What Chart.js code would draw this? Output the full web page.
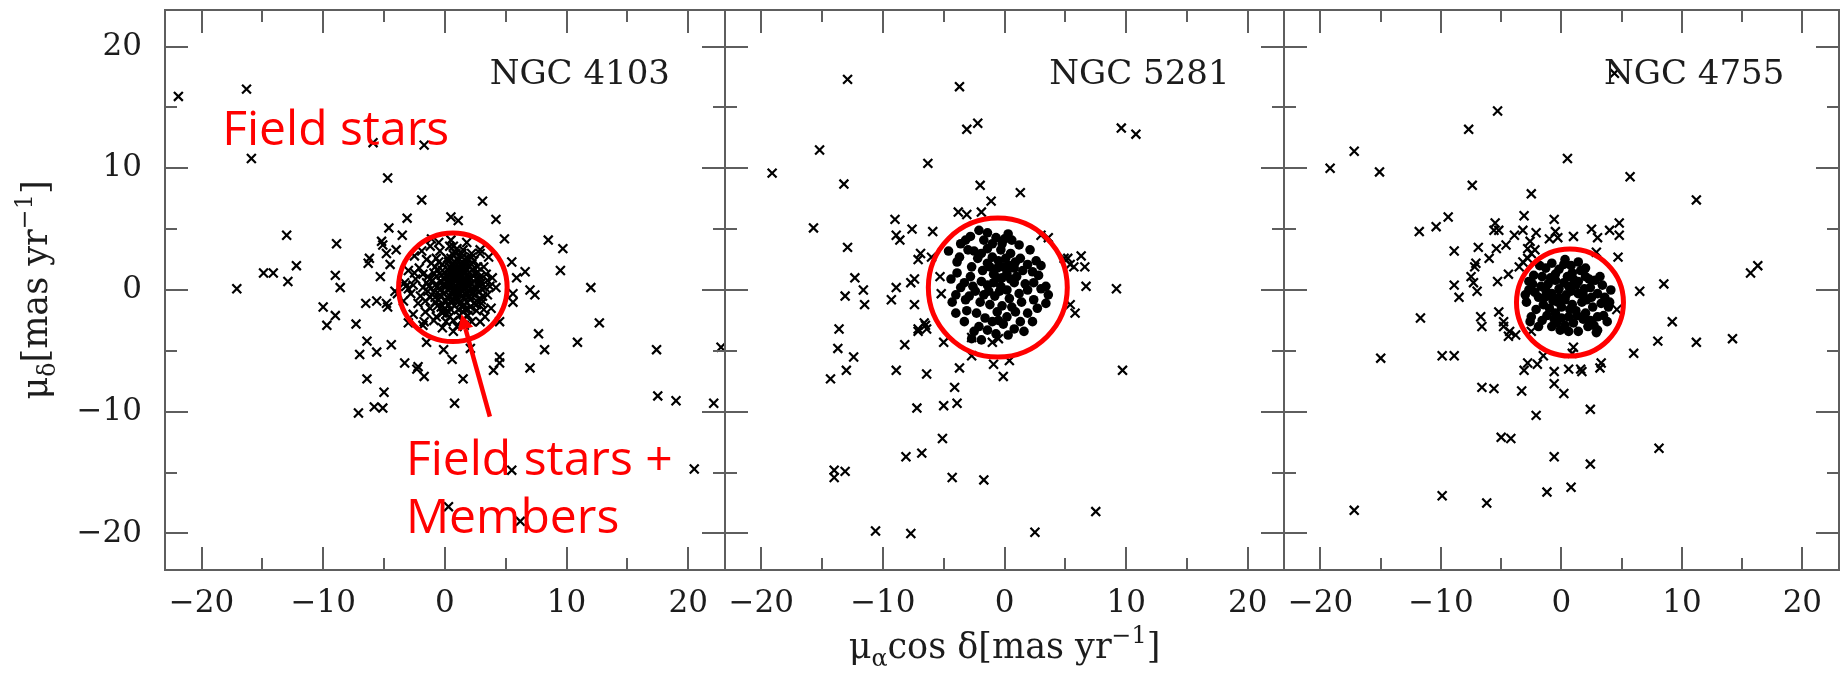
<!DOCTYPE html>
<html>
<head>
<meta charset="utf-8">
<title>Proper motions of NGC 4103, NGC 5281 and NGC 4755</title>
<script src="https://cdn.jsdelivr.net/npm/chart.js@4.4.1/dist/chart.umd.min.js"></script>
<style>
  html, body { margin: 0; padding: 0; background: #fff; }
  #wrap { position: relative; width: 1847px; height: 675px; overflow: hidden; background: #fff; }
  #wrap canvas { position: absolute; left: 0; top: 0; }
</style>
</head>
<body>
<div id="wrap">
  <canvas id="p0" width="1847" height="675"></canvas>
  <canvas id="p1" width="1847" height="675"></canvas>
  <canvas id="p2" width="1847" height="675"></canvas>
</div>
<script>
// Axis range and tick marks, in mas/yr
const axisMin = -23, axisMax = 23;
const majorTicks = [-20, -10, 0, 10, 20];
const minorTicks = [-15, -5, 5, 15];
const clusterNames = ['NGC 4103', 'NGC 5281', 'NGC 4755'];

// NGC 4103: field stars [mu_alpha cos delta, mu_delta]
const field4103 = [
  [-21.9,15.9],[-16.3,16.5],[-15.9,10.8],[-5.9,12.1],[-1.7,11.9],[-4.7,9.2],[-1.9,7.4],[3.1,7.3],[-3.1,5.9],[0.5,6.0],
  [1.1,5.7],[4.2,5.8],[-4.6,5.1],[-3.5,4.5],[-13.0,4.5],[-8.9,3.8],[4.9,4.2],[8.5,4.1],[9.7,3.4],[9.5,1.6],
  [12.0,0.2],[-17.1,0.1],[-14.9,1.4],[-14.1,1.4],[-12.2,2.0],[-12.9,0.7],[-9.0,1.2],[-8.6,0.2],[-10.0,-1.4],[-9.0,-2.1],
  [-9.7,-2.9],[-7.3,-2.8],[12.7,-2.7],[7.7,-3.6],[-5.2,4.0],[-5.1,3.7],[-6.2,2.6],[-6.3,2.2],[-5.3,1.1],[-4.5,2.1],
  [-4.0,3.3],[-4.8,3.0],[-4.1,-0.1],[5.5,2.3],[6.6,1.5],[5.9,1.0],[7.0,0.0],[7.4,-0.4],[5.6,-0.3],[-6.5,-1.1],
  [-5.6,-0.9],[-4.8,-1.1],[-4.7,-1.4],[-6.4,-4.2],[-7.0,-5.3],[-5.6,-5.1],[-4.4,-4.5],[-3.3,-6.0],[-2.2,-6.3],[-2.3,-6.5],
  [-1.7,-7.1],[-6.4,-7.3],[-5.0,-8.4],[-7.1,-10.1],[-5.8,-9.6],[-5.1,-9.7],[0.8,-9.3],[1.5,-7.3],[-0.1,-4.9],[0.6,-5.7],
  [-1.5,-4.3],[2.1,-4.8],[4.5,-5.5],[4.5,-6.0],[4.0,-6.6],[7.0,-6.4],[8.2,-4.9],[10.9,-4.3],[17.4,-4.9],[22.7,-4.7],
  [17.5,-8.7],[19.0,-9.1],[22.1,-9.3],[5.5,-14.8],[20.5,-14.7],[0.3,-17.8],[6.2,-19.0],[5.6,-1.0],[4.5,-2.6],[-3.0,-2.7],
  [-1.8,-2.9],[-0.7,-2.2],[0.7,-3.4],[-3.9,-0.3],[-3.2,0.3],[-2.6,0.4]
];

// NGC 4103: field stars + members inside the selection circle
const core4103 = [
  [0.5,4.1],[1.8,3.9],[-1.2,3.6],[2.9,3.3],[-0.4,3.2],[1.0,3.4],[3.6,2.7],[-2.5,2.8],[-1.5,2.5],[0.2,2.6],
  [1.4,2.7],[2.4,2.4],[3.2,1.9],[-3.0,1.6],[-2.1,1.8],[-0.8,1.9],[0.6,1.7],[1.7,1.8],[2.7,1.5],[3.9,1.0],
  [-3.3,0.6],[-2.4,0.9],[-1.4,1.1],[-0.3,1.2],[0.9,1.1],[2.1,1.0],[3.0,0.6],[4.2,0.2],[-2.8,-0.3],[-1.8,0.2],
  [-0.8,0.4],[0.3,0.5],[1.4,0.4],[2.5,0.2],[3.5,-0.4],[-2.2,-1.1],[-1.2,-0.6],[-0.1,-0.3],[1.0,-0.2],[2.0,-0.5],
  [3.0,-1.1],[-1.6,-1.8],[-0.6,-1.3],[0.5,-1.0],[1.6,-1.2],[2.6,-1.7],[-0.9,-2.5],[0.1,-2.0],[1.2,-2.1],[2.2,-2.6],
  [-0.2,-3.1],[1.0,-3.0],[3.3,-2.2],[-2.6,-2.0],[0.6,2.2],[1.2,1.4],[0.0,0.9],[0.7,0.0],[1.9,0.7],[-0.5,-0.8],
  [0.3,1.6],[1.5,2.2],[2.3,1.7],[-1.0,0.8],[0.9,0.7],[1.6,-0.6],[0.2,-0.6],[-0.4,0.0],[2.8,-0.1],[1.1,0.2],
  [0.4,3.6],[2.2,3.0],[-1.9,3.2],[3.7,0.3],[-3.4,-0.9],[2.9,-2.6],[1.7,-1.6],[-1.4,-0.1],[0.8,1.9],[-0.2,2.1],
  [1.3,1.0],[2.0,0.3],[0.5,-1.6],[-1.2,-1.5],[3.4,1.3],[-2.5,1.4],[1.9,-2.1],[0.0,-1.5],[-0.7,2.6],[2.6,0.9],
  [1.4,3.0],[-1.7,-2.6],[0.7,-2.5],[3.8,-1.5],[-3.0,0.1],[1.8,1.2],[0.1,0.3],[-0.9,-0.2],[1.0,-0.7],[2.4,-1.1],
  [-1.1,4.2],[0.7,3.6],[1.5,3.3],[2.9,3.0],[0.9,1.6],[1.6,0.9],[0.4,0.2],[1.2,-0.4],[2.2,0.5],[0.0,1.4],
  [0.6,-0.3],[1.8,-0.2],[2.5,1.3],[-0.6,1.6],[1.1,2.4],[0.3,-1.3],[1.5,-1.8],[2.1,-1.4],[-0.3,0.7],[0.8,0.9],
  [1.4,1.9],[2.9,0.3],[-1.5,0.6],[0.1,-2.6],[1.9,2.6],[-0.2,-1.9],[2.6,-0.9],[3.1,-0.5],[-2.0,-0.5],[-1.1,2.2],
  [0.7,2.9],[3.5,0.8],[-0.5,3.9],[1.6,-2.9],[0.2,1.1],[1.0,1.3],[1.7,0.2],[0.6,0.6],[1.3,-1.1],[2.3,-0.3],
  [-0.1,0.5],[0.9,-0.5],[1.5,1.5],[0.4,-0.5],[2.0,1.4],[-0.7,1.1],[1.2,0.7],[0.5,1.3],[1.8,-1.0],[2.7,0.5],
  [-0.4,-0.4],[0.8,-1.3],[1.6,2.5],[0.3,2.3],[-1.3,0.3],[2.2,2.1],[1.1,-1.6],[-0.8,-1.0],[0.0,-0.9],[2.9,1.1],
  [1.4,-2.5],[-1.8,1.3],[0.9,3.0],[3.2,-1.6],[0.3,0.8],[1.1,0.5],[1.9,1.0],[0.7,1.4],[1.5,0.1],[0.0,0.2],
  [2.3,1.2],[1.0,-0.9],[0.4,1.9],[1.7,1.5],[2.8,0.8],[-0.6,0.3],[1.3,2.1],[2.1,-0.8],[0.6,-0.8],[-0.2,1.6],
  [1.6,-0.3],[2.5,-0.4],[0.9,0.3],[1.2,1.7],[0.1,-0.9],[2.0,1.9],[-0.9,1.4],[1.8,0.4],[0.5,2.6],[2.4,0.0],
  [-0.3,-1.4],[1.4,-1.4],[0.8,2.3],[3.0,-0.8],[-1.2,0.9],[0.2,-1.7],[2.7,1.9],[1.0,0.0],[-0.5,2.3],[1.9,-1.6],
  [0.6,1.0],[3.3,0.2],[-1.6,-0.9],[2.2,2.7],[1.5,0.6],[0.3,0.0],[1.1,1.0],[2.0,-0.1],[-0.1,1.0],[0.8,-0.2],
  [1.7,2.1],[-0.8,-0.6],[2.6,-1.2],[0.4,-2.2]
];

// NGC 5281: field stars
const field5281 = [
  [-12.9,17.3],[-3.7,16.7],[-3.1,13.2],[-2.2,13.7],[9.6,13.3],[10.8,12.8],[-15.2,11.5],[-19.1,9.6],[-6.3,10.4],[-13.2,8.7],
  [-2.0,8.6],[1.3,8.0],[-1.1,7.3],[-3.8,6.4],[-3.1,6.2],[-1.9,6.4],[-15.7,5.1],[-9.0,5.8],[-7.6,5.0],[-5.9,4.8],
  [-8.9,4.5],[-8.6,4.1],[-12.9,3.5],[-6.9,3.0],[-7.1,2.5],[-6.0,2.7],[3.0,4.5],[3.6,4.3],[4.9,2.6],[6.3,2.8],
  [5.7,1.9],[6.6,1.9],[5.4,2.1],[5.2,2.6],[6.7,0.3],[9.2,0.1],[5.4,-1.2],[5.8,-1.9],[-12.3,1.0],[-11.6,0.0],
  [-13.1,-0.5],[-11.5,-1.2],[-8.9,0.2],[-9.3,-0.8],[-7.4,0.9],[-7.7,0.6],[-7.4,-1.2],[-5.3,1.1],[-5.2,-0.3],[-13.6,-3.2],
  [-7.1,-3.2],[-6.5,-2.9],[-6.6,-2.7],[-6.4,-3.2],[-7.1,-3.4],[-13.7,-4.8],[-12.4,-5.5],[-13.0,-6.6],[-14.3,-7.3],[-8.2,-4.5],
  [-8.9,-6.6],[-6.4,-6.9],[-5.0,-4.3],[-3.7,-6.4],[-4.1,-8.0],[-5.0,-9.5],[-3.9,-9.3],[-7.2,-9.7],[-5.1,-12.2],[-8.1,-13.7],
  [-6.8,-13.4],[-14.0,-14.8],[-13.1,-14.9],[-14.0,-15.4],[-4.3,-15.4],[-1.7,-15.6],[9.7,-6.6],[7.5,-18.2],[-10.6,-19.8],[-7.7,-20.0],
  [2.5,-19.9],[-2.7,-5.4],[-0.9,-6.1],[-0.1,-7.1],[0.4,-5.8],[-1.0,-4.3],[-0.5,-4.0],[-2.7,-3.9]
];

// NGC 5281: members
const members5281 = [
  [-2.1,4.9],[-2.8,4.4],[-1.7,4.1],[-0.7,4.3],[0.0,4.2],[0.6,4.1],[1.2,3.7],[-3.6,3.8],[-4.6,3.2],[-3.7,2.7],
  [-2.5,3.2],[-1.4,3.4],[-0.3,3.3],[0.5,3.0],[1.3,2.6],[2.6,2.4],[1.9,2.1],[2.3,1.5],[-3.9,1.4],[-2.7,1.9],
  [-1.4,2.2],[-0.6,1.8],[0.2,1.4],[1.0,1.1],[3.4,0.3],[-4.0,-0.4],[-3.2,-0.8],[-2.4,-0.1],[-1.4,0.4],[-0.3,0.3],
  [0.8,0.6],[1.9,0.0],[3.0,0.1],[3.6,-0.4],[3.4,-1.1],[-3.1,-1.7],[-2.3,-1.9],[-1.2,-1.2],[-0.6,-1.8],[0.2,-2.2],
  [0.9,-1.8],[1.9,-1.9],[-4.0,-1.9],[-1.0,-2.6],[-0.1,-2.8],[0.8,-3.2],[-2.5,-3.4],[-2.7,-4.0],[-1.4,-3.3],
  [-1.0,3.8],[-0.2,3.8],[-1.9,3.0],[-3.0,3.3],[-2.2,2.6],[-1.0,2.7],[0.1,2.6],[0.9,2.3],[-0.5,2.4],[-1.8,1.6],
  [-0.9,1.3],[-0.2,1.0],[0.5,0.9],[1.5,1.6],[2.8,1.2],[-3.3,0.6],[-2.8,1.1],[-1.9,0.7],[-0.9,0.6],[0.2,0.0],
  [1.2,-0.3],[2.4,0.6],[2.4,-0.8],[-3.6,0.2],[-1.7,-0.4],[-0.8,-0.5],[0.4,-0.7],[1.4,-1.0],[2.7,-1.5],[-2.0,-1.0],
  [-0.2,-1.3],[0.6,-1.4],[-1.6,-2.3],[-0.5,-2.5],[1.3,-2.6],[2.3,-2.6],[-3.3,-2.6],[-2.1,-3.0],[-0.7,-3.6],[0.3,-3.7],
  [-1.9,-4.1],[1.6,-3.4],[-3.9,2.3],[-4.4,0.9],[-4.3,-1.0],[2.1,3.3],[3.0,2.0],[0.3,4.6],[-1.4,4.7],[-3.2,4.1],
  [-0.4,-0.1],[-1.3,-0.1],[0.8,1.8],[-0.1,1.9],[-2.6,0.3],[1.7,0.5],[-0.6,1.0],[-1.2,1.9],[0.4,2.0],[-2.9,-0.5]
];

// NGC 4755: field stars
const field4755 = [
  [4.4,17.8],[-5.3,14.7],[-7.7,13.2],[-17.2,11.4],[-19.2,10.0],[-15.1,9.7],[0.5,10.8],[5.7,9.3],[-7.4,8.6],[-2.5,7.9],
  [11.2,7.4],[-11.8,4.8],[-10.4,5.2],[-9.4,6.0],[-5.5,5.5],[-5.2,4.9],[-5.6,4.9],[-3.1,6.1],[-0.6,5.8],[-3.9,4.5],
  [-3.2,4.9],[-2.1,4.7],[-0.5,4.8],[-0.3,4.3],[-1.0,4.2],[1.0,4.4],[2.5,5.0],[3.0,4.3],[4.0,4.9],[4.8,5.5],
  [4.8,4.5],[-8.9,3.2],[-6.9,3.5],[-6.0,2.6],[-5.4,3.4],[-4.6,3.7],[-7.1,2.2],[-7.2,1.9],[-7.5,1.1],[-7.3,0.6],
  [-7.0,-0.1],[-8.9,0.4],[-8.5,-0.6],[-5.3,0.7],[-4.4,1.3],[-3.5,1.9],[-2.8,2.6],[-3.2,2.3],[-2.5,3.0],[-2.8,3.4],
  [-2.6,4.0],[-2.2,3.3],[2.9,3.1],[4.7,2.7],[6.5,-0.1],[8.5,0.5],[15.7,1.4],[16.3,2.0],[-11.7,-2.3],[-6.7,-2.2],
  [-6.6,-3.0],[-5.2,-1.8],[-4.8,-2.6],[-4.3,-3.4],[-4.8,-3.0],[-4.4,-3.8],[-3.8,-3.7],[-2.5,-3.4],[9.2,-2.6],[4.6,-1.6],
  [8.0,-4.2],[11.2,-4.3],[14.2,-4.0],[6.0,-5.2],[-15.0,-5.6],[-9.9,-5.4],[-8.9,-5.4],[-2.8,-6.0],[-2.0,-6.1],[-3.1,-6.6],
  [-0.6,-6.7],[-0.6,-7.7],[0.2,-8.5],[0.6,-6.5],[1.6,-6.5],[1.7,-6.7],[3.3,-6.0],[3.2,-6.4],[-1.5,-5.4],[1.0,-4.7],
  [0.9,-5.2],[-6.6,-8.0],[-5.6,-8.1],[-3.3,-8.3],[-2.1,-10.3],[2.4,-9.8],[-5.0,-12.1],[-4.2,-12.2],[8.1,-13.0],[-0.6,-13.7],
  [2.4,-14.3],[-9.9,-16.9],[-6.2,-17.5],[-1.2,-16.6],[0.8,-16.2],[-17.2,-18.1]
];

// NGC 4755: members
const members4755 = [
  [-0.8,2.2],[0.3,2.5],[1.4,2.3],[-1.6,1.1],[-0.5,0.8],[0.9,1.4],[2.0,1.1],[2.8,0.8],[4.1,0.0],[-2.7,0.0],
  [-1.9,-0.6],[-0.8,-0.3],[0.3,-0.8],[1.4,-0.3],[2.5,-0.6],[3.3,-1.1],[-2.5,-2.2],[-1.6,-2.5],[-0.5,-1.9],[0.6,-2.2],
  [2.0,-1.9],[3.0,-2.2],[3.9,-1.4],[-0.8,-3.0],[-0.4,-2.7],[0.3,-2.9],[1.4,-3.4],[2.2,-3.0],[3.0,-3.3],
  [-1.3,1.8],[-0.2,1.7],[0.8,2.0],[2.0,1.8],[-2.3,1.2],[-2.7,0.7],[-1.1,0.5],[0.2,0.6],[1.4,0.7],[2.4,0.2],
  [3.4,0.4],[-2.2,-0.2],[-1.3,0.0],[-0.2,0.1],[0.8,-0.1],[1.9,0.1],[3.0,-0.3],[-2.9,-1.0],[-1.5,-1.2],[-0.7,-0.9],
  [0.0,-1.4],[0.9,-1.2],[1.7,-1.0],[2.6,-1.4],[-2.1,-1.6],[-1.0,-1.5],[1.2,-1.7],[2.4,-2.5],[3.5,-2.1],[-1.9,-3.0],
  [-1.2,-2.1],[0.0,-2.3],[1.0,-2.7],[1.8,-2.4],[0.6,-3.4],[-0.1,-3.3],[2.7,-2.9],[3.6,-0.6],[4.0,-1.0],[-3.0,-0.4],
  [-2.4,0.5],[-1.7,0.3],[-0.5,1.3],[0.5,1.1],[1.6,1.6],[2.3,0.9],[3.2,1.1],[-0.9,-0.5],[0.4,-0.4],[1.2,0.4],
  [-0.2,-0.6],[0.6,0.3],[-1.4,-0.6],[2.1,-0.8],[1.3,-2.1],[-0.6,-2.4],[0.7,-1.6],[-2.6,-2.6],[3.8,-2.6],[2.9,-3.5],
  [-1.8,2.0],[0.2,2.1],[-0.9,1.0],[1.0,0.9],[1.8,-0.4],[-0.3,-1.0]
];

// Member selection circles: centre x, centre y, radius (mas/yr)
const circle4103 = [0.66, 0.22, 4.46];
const circle5281 = [-0.55, 0.2, 5.71];
const circle4755 = [0.71, -1.03, 4.44];

// ---------------------------------------------------------------------
const W = 1847, H = 675;
const PLOT = { left: 165, top: 10, bottom: 570, width: 559.67 };
const SERIF = '"DejaVu Serif", "Liberation Serif", serif';
const HAND = '"Open Sans", "Noto Sans", sans-serif';
const RED = '#ff0000';
const INK = '#1c1c1c';

const fmtTick = v => (v < 0 ? '\u2212' + Math.abs(v) : String(v));
const toXY = arr => arr.map(([x, y]) => ({ x, y }));

// text with sub/superscript pieces; parts = [[text, kind]], kind '' | 'sub' | 'sup'
function richText(ctx, parts, x, y, size, align) {
  const small = size * 0.68;
  const widths = parts.map(([t, k]) => {
    ctx.font = (k ? small : size) + 'px ' + SERIF;
    return ctx.measureText(t).width;
  });
  const total = widths.reduce((s, w) => s + w, 0);
  let cx = align === 'center' ? x - total / 2 : x;
  ctx.textAlign = 'left';
  ctx.textBaseline = 'alphabetic';
  parts.forEach(([t, k], i) => {
    ctx.font = (k ? small : size) + 'px ' + SERIF;
    const dy = k === 'sub' ? size * 0.24 : (k === 'sup' ? -size * 0.42 : 0);
    ctx.fillText(t, cx, y + dy);
    cx += widths[i];
  });
}

function panelDecor(idx, name, circle) {
  return {
    id: 'panelDecor' + idx,
    afterDatasetsDraw(chart) {
      const { ctx, scales: { x, y } } = chart;
      const cx = x.getPixelForValue(circle[0]);
      const cy = y.getPixelForValue(circle[1]);
      const r = x.getPixelForValue(circle[0] + circle[2]) - cx;
      ctx.save();
      ctx.strokeStyle = RED;
      ctx.lineWidth = 5;
      ctx.beginPath();
      ctx.arc(cx, cy, r, 0, Math.PI * 2);
      ctx.stroke();

      if (idx === 0) {
        // hand-written annotations
        ctx.fillStyle = RED;
        ctx.font = '48px ' + HAND;
        ctx.textAlign = 'left';
        ctx.textBaseline = 'alphabetic';
        ctx.fillText('Field stars', x.getPixelForValue(-18.3), y.getPixelForValue(11.9));
        ctx.fillText('Field stars +', x.getPixelForValue(-3.2), y.getPixelForValue(-15.2));
        ctx.fillText('Members', x.getPixelForValue(-3.2), y.getPixelForValue(-20.0));

        const tail = [x.getPixelForValue(3.7), y.getPixelForValue(-10.4)];
        const tip = [x.getPixelForValue(1.37), y.getPixelForValue(-2.0)];
        const ang = Math.atan2(tip[1] - tail[1], tip[0] - tail[0]);
        const headLen = 15, headHalf = 8;
        const base = [tip[0] - headLen * Math.cos(ang), tip[1] - headLen * Math.sin(ang)];
        ctx.lineWidth = 4.5;
        ctx.beginPath();
        ctx.moveTo(tail[0], tail[1]);
        ctx.lineTo(base[0], base[1]);
        ctx.stroke();
        ctx.beginPath();
        ctx.moveTo(tip[0], tip[1]);
        ctx.lineTo(base[0] + headHalf * Math.sin(ang), base[1] - headHalf * Math.cos(ang));
        ctx.lineTo(base[0] - headHalf * Math.sin(ang), base[1] + headHalf * Math.cos(ang));
        ctx.closePath();
        ctx.fill();
      }
      ctx.restore();
    },
    afterDraw(chart) {
      const { ctx, chartArea: a, scales: { x, y } } = chart;
      const L = Math.round(a.left), R = Math.round(a.right);
      const T = Math.round(a.top), B = Math.round(a.bottom);
      ctx.save();
      ctx.strokeStyle = '#5e5e5e';
      ctx.lineWidth = 2;
      ctx.strokeRect(L, T, R - L, B - T);

      // inward ticks on all four sides
      const drawTicks = (vals, len) => {
        vals.forEach(v => {
          const px = Math.round(x.getPixelForValue(v));
          const py = Math.round(y.getPixelForValue(v));
          ctx.beginPath();
          ctx.moveTo(px, B); ctx.lineTo(px, B - len);
          ctx.moveTo(px, T); ctx.lineTo(px, T + len);
          ctx.moveTo(L, py); ctx.lineTo(L + len, py);
          ctx.moveTo(R, py); ctx.lineTo(R - len, py);
          ctx.stroke();
        });
      };
      drawTicks(majorTicks, 23);
      drawTicks(minorTicks, 12);

      // cluster name
      ctx.fillStyle = INK;
      ctx.font = '34px ' + SERIF;
      ctx.textAlign = 'right';
      ctx.textBaseline = 'alphabetic';
      ctx.fillText(name, x.getPixelForValue(18.5), y.getPixelForValue(16.9));

      if (idx === 1) {
        richText(ctx, [['\u03bc', ''], ['\u03b1', 'sub'], ['cos \u03b4[mas yr', ''], ['\u22121', 'sup'], [']', '']],
          (a.left + a.right) / 2, 658, 35, 'center');
      }
      if (idx === 0) {
        ctx.save();
        ctx.translate(47, (a.top + a.bottom) / 2);
        ctx.rotate(-Math.PI / 2);
        richText(ctx, [['\u03bc', ''], ['\u03b4', 'sub'], ['[mas yr', ''], ['\u22121', 'sup'], [']', '']],
          0, 0, 35, 'center');
        ctx.restore();
      }
      ctx.restore();
    }
  };
}

function crossSet(points) {
  return {
    data: toXY(points),
    pointStyle: 'crossRot',
    pointRadius: 6.3,
    pointBorderWidth: 2.2,
    borderColor: '#000',
    backgroundColor: 'rgba(0,0,0,0)',
    showLine: false
  };
}
function dotSet(points) {
  return {
    data: toXY(points),
    pointStyle: 'circle',
    pointRadius: 4.8,
    pointBorderWidth: 0,
    borderColor: '#000',
    backgroundColor: '#000',
    showLine: false
  };
}

function makePanel(idx, datasets, circle) {
  const areaLeft = PLOT.left + PLOT.width * idx;
  const showY = idx === 0;
  const tickFont = { family: SERIF, size: 31 };
  return new Chart(document.getElementById('p' + idx), {
    type: 'scatter',
    data: { datasets },
    options: {
      responsive: false,
      animation: false,
      devicePixelRatio: 1,
      events: [],
      layout: {
        padding: {
          left: showY ? 0 : areaLeft,
          right: W - areaLeft - PLOT.width,
          top: PLOT.top,
          bottom: 0
        }
      },
      plugins: { legend: { display: false }, tooltip: { enabled: false } },
      scales: {
        x: {
          type: 'linear', min: axisMin, max: axisMax,
          afterBuildTicks: s => { s.ticks = majorTicks.map(v => ({ value: v })); },
          afterFit: s => { s.height = H - PLOT.bottom; s.paddingLeft = 0; s.paddingRight = 0; },
          grid: { display: false, drawTicks: false },
          border: { display: false },
          ticks: { color: INK, font: tickFont, padding: 15, maxRotation: 0, autoSkip: false, callback: v => fmtTick(v) }
        },
        y: {
          type: 'linear', min: axisMin, max: axisMax,
          display: showY,
          afterBuildTicks: s => { s.ticks = majorTicks.map(v => ({ value: v })); },
          afterFit: s => { s.width = showY ? PLOT.left : 0; s.paddingTop = 0; s.paddingBottom = 0; },
          grid: { display: false, drawTicks: false },
          border: { display: false },
          ticks: { color: INK, font: tickFont, padding: 23, autoSkip: false, callback: v => fmtTick(v) }
        }
      }
    },
    plugins: [panelDecor(idx, clusterNames[idx], circle)]
  });
}

makePanel(0, [crossSet(core4103), crossSet(field4103)], circle4103);
makePanel(1, [dotSet(members5281), crossSet(field5281)], circle5281);
makePanel(2, [dotSet(members4755), crossSet(field4755)], circle4755);
</script>
</body>
</html>
